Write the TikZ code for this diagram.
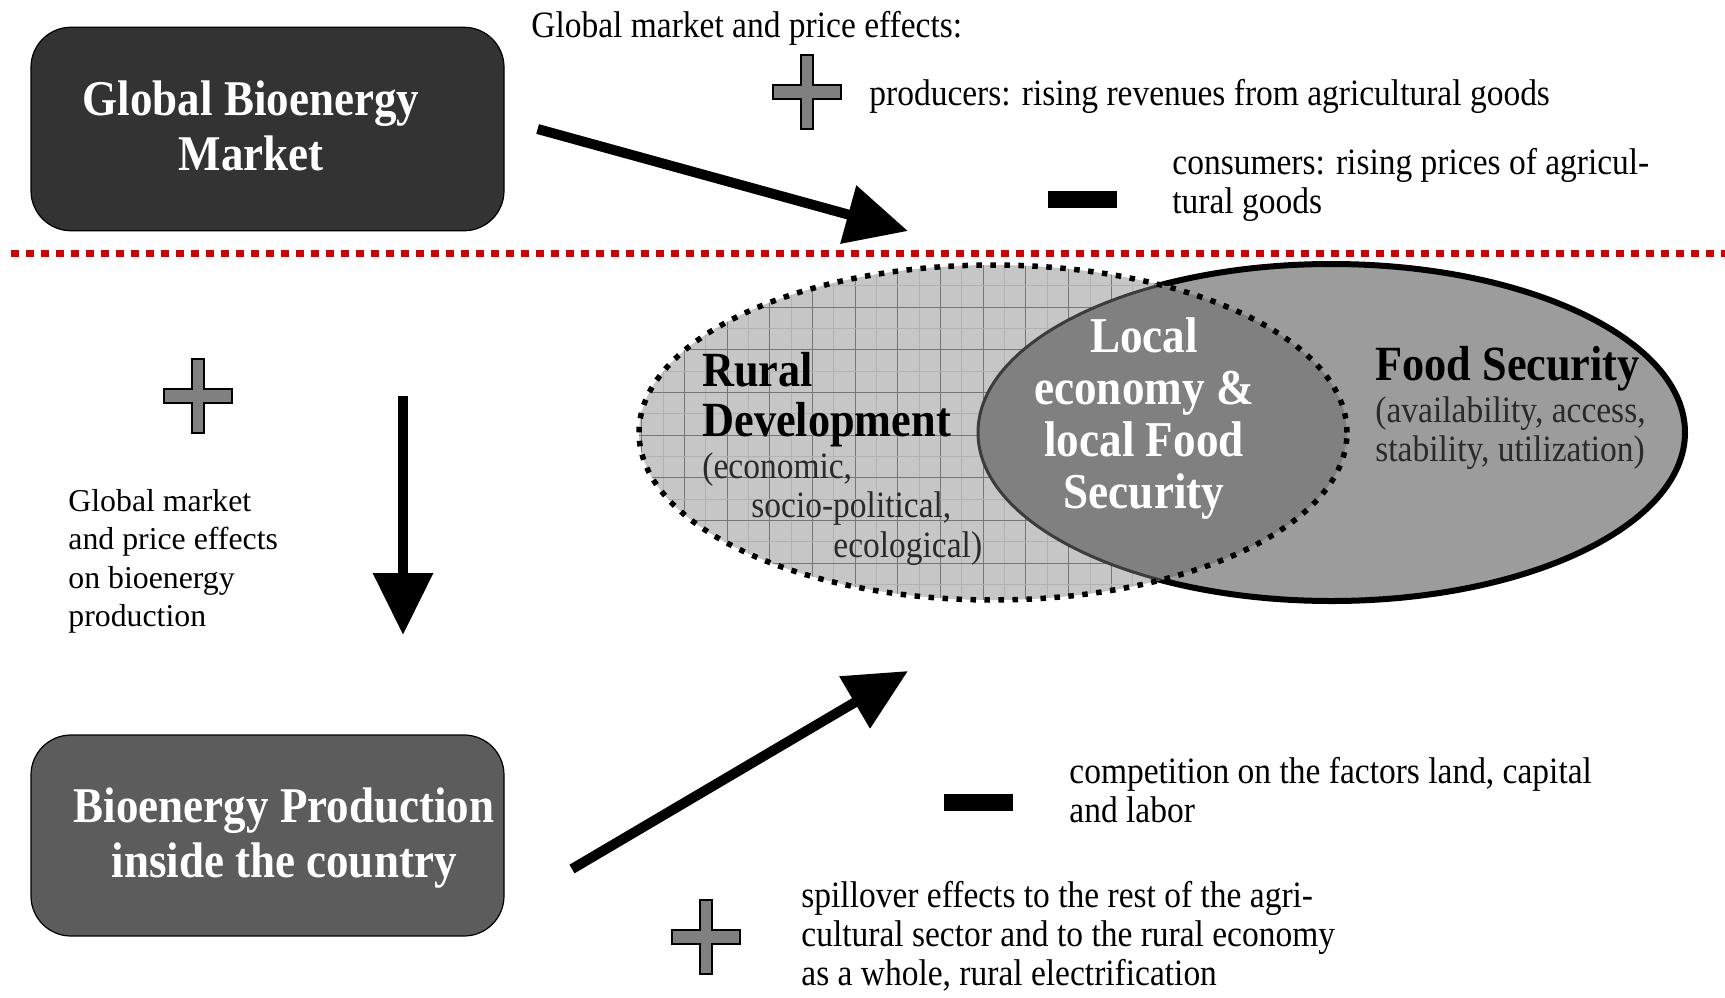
\documentclass[tikz,border=0pt]{standalone}
\usepackage{fontspec}
\setmainfont{Liberation Serif}
\newfontfamily\cond[FakeStretch=0.9]{Liberation Serif}
\usetikzlibrary{arrows.meta}
\definecolor{boxdark}{HTML}{333333}
\definecolor{boxmid}{HTML}{5C5C5C}
\definecolor{redline}{HTML}{D40000}
\definecolor{rdfill}{HTML}{C6C6C6}
\definecolor{gridline}{HTML}{767676}
\definecolor{gridfine}{HTML}{B2B2B2}
\definecolor{fsfill}{HTML}{9C9C9C}
\definecolor{lefill}{HTML}{808080}
\definecolor{plusgray}{HTML}{808080}
\definecolor{innerline}{HTML}{3C3C3C}
\definecolor{subtext}{HTML}{2A2A2A}
\begin{document}
\begin{tikzpicture}[x=0.5pt,y=-0.5pt,
  box/.style={draw=black, line width=0.6pt, rounded corners=20pt, minimum width=236.5pt, inner sep=0pt},
  boxtext/.style={text=white, font=\cond\bfseries\fontsize{25}{27.5}\selectfont, align=center, inner sep=0pt},
  txt/.style={font=\cond\fontsize{18.6}{19.5}\selectfont, align=left, inner sep=0pt, anchor=west},
  subtxt/.style={txt, text=subtext},
  btxt/.style={font=\cond\bfseries\fontsize{24.6}{25}\selectfont, align=left, inner sep=0pt, anchor=west},
  lefttxt/.style={font=\fontsize{15.9}{19.25}\selectfont, align=left, inner sep=0pt, anchor=west},
  bigarrow/.style={line width=5pt, -{Triangle[length=31pt,width=29pt]}},
  minusbar/.style={fill=black, minimum width=34.5pt, minimum height=8.5pt, inner sep=0pt},
  plussign/.pic={\draw[fill=plusgray, line width=0.8pt]
     (-6,-37) -- (6,-37) -- (6,-7) -- (34,-7) -- (34,7) -- (6,7) -- (6,37)
     -- (-6,37) -- (-6,7) -- (-34,7) -- (-34,-7) -- (-6,-7) -- cycle;},
  redsep/.style={redline, line width=3.5pt, dash pattern=on 4pt off 3.5pt},
  dotborder/.style={black, line width=2.75pt, dash pattern=on 2.75pt off 4.25pt}
]
\useasboundingbox (0,0) rectangle (1725,997);

% ---------- boxes ----------
\node[box, fill=boxdark, minimum height=101.75pt] (gbm) at (267.5,129) {};
\node[boxtext] (gbmtext) at (251,125.5) {Global Bioenergy\\Market};
\node[box, fill=boxmid, minimum height=100.5pt] (bpc) at (267.5,835.5) {};
\node[boxtext] (bpctext) at (284,838.5) {Bioenergy Production\\inside the country};

% ---------- red separator ----------
\coordinate (sepl) at (11,253);
\coordinate (sepr) at (1725,253);
\draw[redsep] (sepl) -- (sepr);

% ---------- top texts ----------
\node[txt] (gmpe) at (531,28.5) {Global market and price effects:};
\pic (plus1) at (807,92) {plussign};
\node[txt] (prod) at (869,96.5) {producers: rising revenues from agricultural goods};
\node[minusbar] (minus1) at (1082,199.5) {};
\node[txt] (cons) at (1172,185) {consumers: rising prices of agricul-\\tural goods};

% ---------- arrows ----------
\coordinate (a1e) at (908,231);
\draw[bigarrow] ([xshift=16.5pt]gbm.east) -- (a1e);
\coordinate (a2s) at (403,396);
\coordinate (a2e) at (403,635);
\draw[bigarrow] (a2s) -- (a2e);
\coordinate (a3s) at (572,869);
\coordinate (a3e) at (908,671);
\draw[bigarrow] (a3s) -- (a3e);

% ---------- left side ----------
\pic (plus2) at (198,396) {plussign};
\node[lefttxt] (leftt) at (68,561.5) {Global market\\and price effects\\on bioenergy\\production};

% ---------- ellipses ----------
% Food security ellipse
\fill[fsfill] (1331.5,432.5) ellipse [x radius=176.75pt, y radius=84.25pt];
\draw[line width=3pt] (1331.5,432.5) ellipse [x radius=176.75pt, y radius=84.25pt];
% Rural development ellipse with grid
\fill[rdfill] (993,432.5) ellipse [x radius=177pt, y radius=83.75pt];
\begin{scope}
  \clip (993,432.5) ellipse [x radius=177pt, y radius=83.75pt];
  \foreach \i in {-4,...,16} {
    \draw[gridfine, line width=0.4pt] ({727+\i*42.7+21.35},250) -- ({727+\i*42.7+21.35},620);
    \draw[gridline, line width=0.5pt] ({727+\i*42.7},250) -- ({727+\i*42.7},620);
  }
  \foreach \j in {-2,...,8} {
    \draw[gridfine, line width=0.4pt] (620,{307+\j*42.7+21.35}) -- (1370,{307+\j*42.7+21.35});
    \draw[gridline, line width=0.5pt] (620,{307+\j*42.7}) -- (1370,{307+\j*42.7});
  }
  \fill[lefill] (1331.5,432.5) ellipse [x radius=176.75pt, y radius=84.25pt];
  \draw[innerline, line width=1.5pt] (1331.5,432.5) ellipse [x radius=176.75pt, y radius=84.25pt];
\end{scope}
\draw[dotborder] (993,432.5) ellipse [x radius=177pt, y radius=83.75pt];

% ---------- ellipse texts ----------
\node[btxt, text=black] (rd) at (702,399.5) {Rural\\Development};
\node[subtxt] (econ) at (702,470) {(economic,};
\node[subtxt] (socio) at (751,509) {socio-political,};
\node[subtxt] (ecol) at (833,549) {ecological)};
\node[btxt, anchor=center, align=center, text=white, font=\cond\bfseries\fontsize{25.1}{25.9}\selectfont] (local) at (1144,418.5) {Local\\economy \&\\local Food\\Security};
\node[btxt, text=black] (fs) at (1375,368.5) {Food Security};
\node[subtxt] (fsdims) at (1375,433.5) {(availability, access,\\stability, utilization)};

% ---------- bottom texts ----------
\node[minusbar] (minus2) at (978,802) {};
\node[txt] (comp) at (1069,790) {competition on the factors land, capital\\and labor};
\pic (plus3) at (706,937) {plussign};
\node[txt] (spill) at (801,936) {spillover effects to the rest of the agri-\\cultural sector and to the rural economy\\as a whole, rural electrification};
\end{tikzpicture}
\end{document}
